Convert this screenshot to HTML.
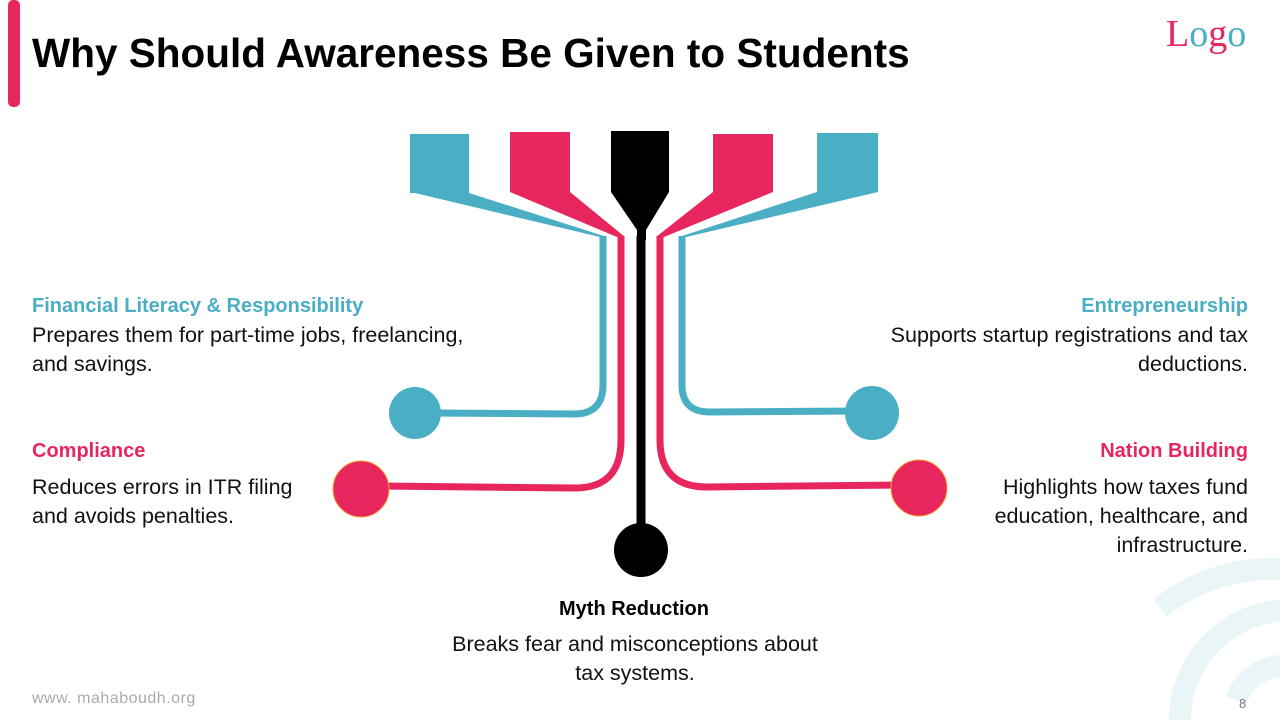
<!DOCTYPE html>
<html><head><meta charset="utf-8"><style>
html,body{margin:0;width:1280px;height:720px;overflow:hidden}
body{background:#fff;font-family:"Liberation Sans",sans-serif;position:relative}
.t{position:absolute;font-size:21.5px;line-height:29px;color:#111;white-space:nowrap}
.h{position:absolute;font-size:20px;font-weight:bold;white-space:nowrap}
</style></head><body>
<svg width="1280" height="720" style="position:absolute;left:0;top:0;overflow:hidden">
<g fill="none" stroke="#e9f5f7" stroke-width="22">
<circle cx="1290" cy="720" r="110"/>
<path d="M1236,700 A52,52 0 0 1 1290,666" />
<path d="M1160,608 A180,180 0 0 1 1290,570" />
</g>
<rect x="8" y="0" width="12" height="107" rx="5" fill="#e8265e"/>
<polygon points="410,134 469,134 469,193 607,237 600,237 415,193 410,193" fill="#4aaec4"/>
<polygon points="510,132 570,132 570,192 625,237 617,237 510,192" fill="#e8265e"/>
<polygon points="611,131 669,131 669,192 646,230 646,240 637,240 637,230 611,192" fill="#000"/>
<polygon points="713,134 773,134 773,192 664,237 656,237 713,192" fill="#e8265e"/>
<polygon points="817,133 878,133 878,192 686,237 679,237 817,192" fill="#4aaec4"/>
<g fill="none" stroke-width="7">
<path d="M603,236 V385 Q603,414 574,414 L430,413" stroke="#4aaec4"/>
<path d="M621,236 V440 Q621,488 575,488 L380,486" stroke="#e8265e"/>
<path d="M641,236 V530" stroke="#000" stroke-width="9"/>
<path d="M660,236 V440 Q660,487 707,487 L900,485" stroke="#e8265e"/>
<path d="M682,236 V385 Q682,412 710,412 L860,411" stroke="#4aaec4"/>
</g>
<circle cx="415" cy="413" r="26" fill="#4aaec4"/>
<circle cx="361" cy="489" r="28" fill="#e8265e" stroke="#f0a030" stroke-width="1"/>
<circle cx="641" cy="550" r="27" fill="#000"/>
<circle cx="872" cy="413" r="27" fill="#4aaec4"/>
<circle cx="919" cy="488" r="28" fill="#e8265e" stroke="#f0a030" stroke-width="1"/>
</svg>
<div style="position:absolute;left:32px;top:30px;font-size:40.5px;font-weight:bold;color:#000;white-space:nowrap">Why Should Awareness Be Given to Students</div>
<div style="position:absolute;left:1166px;top:12px;font-family:'Liberation Serif',serif;font-size:38px"><span style="color:#e8265e">L</span><span style="color:#4aaec4">o</span><span style="color:#e8265e">g</span><span style="color:#4aaec4">o</span></div>
<div class="h" style="left:32px;top:295px;color:#4aaec4">Financial Literacy &amp; Responsibility</div>
<div class="t" style="left:32px;top:321px">Prepares them for part-time jobs, freelancing,<br>and savings.</div>
<div class="h" style="left:32px;top:440px;color:#e8265e">Compliance</div>
<div class="t" style="left:32px;top:473px">Reduces errors in ITR filing<br>and avoids penalties.</div>
<div class="h" style="right:32px;top:295px;color:#4aaec4">Entrepreneurship</div>
<div class="t" style="right:32px;top:321px;text-align:right">Supports startup registrations and tax<br>deductions.</div>
<div class="h" style="right:32px;top:440px;color:#e8265e">Nation Building</div>
<div class="t" style="right:32px;top:473px;text-align:right">Highlights how taxes fund<br>education, healthcare, and<br>infrastructure.</div>
<div class="h" style="left:0;width:1268px;text-align:center;top:598px;color:#000">Myth Reduction</div>
<div class="t" style="left:0;width:1270px;text-align:center;top:630px">Breaks fear and misconceptions about<br>tax systems.</div>
<div style="position:absolute;left:32px;top:690px;font-size:16px;color:#aaa;letter-spacing:0.5px">www. mahaboudh.org</div>
<div style="position:absolute;left:1239px;top:696px;font-size:13px;color:#777">8</div>
</body></html>
